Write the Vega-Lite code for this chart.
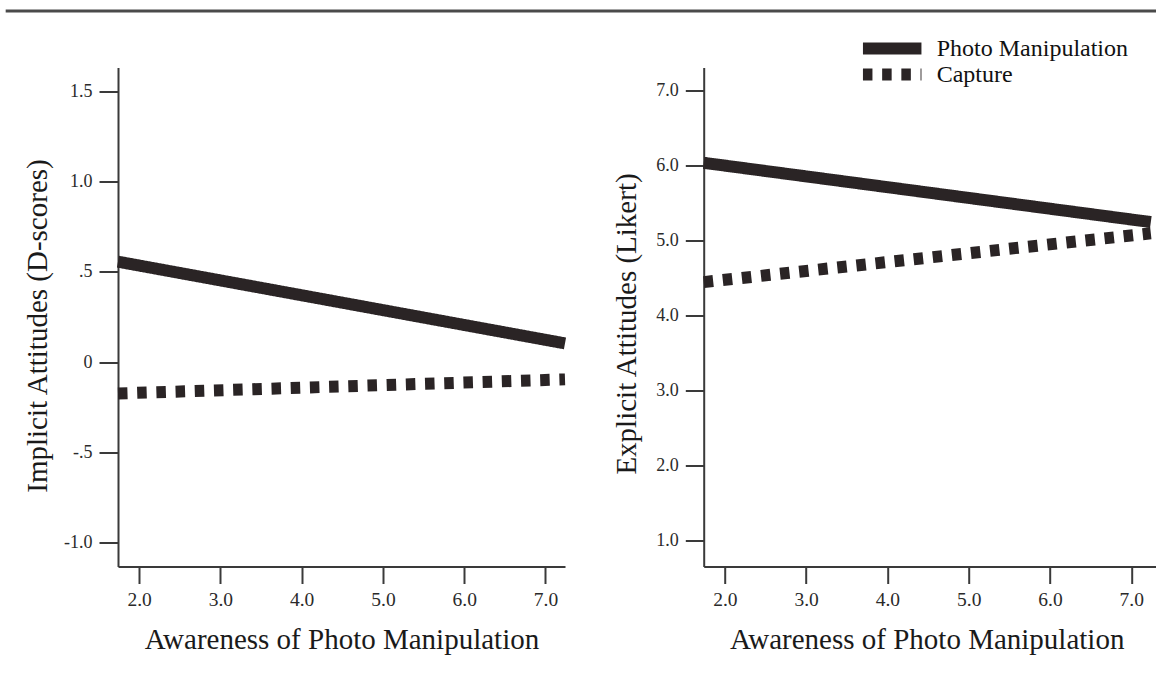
{
  "$schema": "https://vega.github.io/schema/vega-lite/v6.json",
  "background": "white",
  "padding": {"left": 4, "top": 1, "right": 0, "bottom": 0},
  "config": {
    "view": {"stroke": null},
    "font": "Liberation Serif",
    "axis": {
      "domainColor": "#3a3a3a", "domainWidth": 2,
      "tickColor": "#3a3a3a", "tickWidth": 2,
      "labelColor": "#2a2a2a", "labelFont": "Liberation Serif", "labelFontSize": 18,
      "titleFont": "Liberation Serif", "titleFontSize": 29, "titleFontWeight": "normal", "titleColor": "#1a1a1a",
      "grid": false, "labelFlush": false, "labelOverlap": false
    }
  },
  "datasets": {
    "lines": [
      {"panel": "implicit", "condition": "Photo Manipulation", "awareness": 1.74, "attitude": 0.556},
      {"panel": "implicit", "condition": "Photo Manipulation", "awareness": 7.24, "attitude": 0.104},
      {"panel": "implicit", "condition": "Capture", "awareness": 1.74, "attitude": -0.173},
      {"panel": "implicit", "condition": "Capture", "awareness": 7.24, "attitude": -0.095},
      {"panel": "explicit", "condition": "Photo Manipulation", "awareness": 1.74, "attitude": 6.04},
      {"panel": "explicit", "condition": "Photo Manipulation", "awareness": 7.24, "attitude": 5.25},
      {"panel": "explicit", "condition": "Capture", "awareness": 1.74, "attitude": 4.45},
      {"panel": "explicit", "condition": "Capture", "awareness": 7.24, "attitude": 5.10}
    ]
  },
  "spacing": 22.5,
  "vconcat": [
    {
      "width": 1040, "height": 10,
      "data": {"values": [{"line": "top"}]},
      "mark": {"type": "rule", "color": "#4a4a4a", "strokeWidth": 3},
      "encoding": {
        "x": {"datum": -0.108, "type": "quantitative", "scale": {"domain": [0, 1], "nice": false, "zero": false}, "axis": null},
        "x2": {"datum": 1},
        "y": {"datum": 0, "type": "quantitative", "scale": {"domain": [0, 1], "nice": false}, "axis": null}
      }
    },
    {
      "bounds": "flush",
      "spacing": 138.7,
      "resolve": {"scale": {"strokeDash": "independent", "x": "independent", "y": "independent"}, "legend": {"strokeDash": "independent"}},
      "hconcat": [
        {
          "width": 447, "height": 499,
          "data": {"name": "lines"},
          "transform": [{"filter": "datum.panel == 'implicit'"}],
          "mark": {"type": "line", "strokeWidth": 12, "color": "#2a2425", "strokeCap": "butt", "clip": false},
          "encoding": {
            "x": {
              "field": "awareness", "type": "quantitative",
              "scale": {"domain": [1.74, 7.24], "nice": false, "zero": false},
              "axis": {
                "title": "Awareness of Photo Manipulation", "values": [2, 3, 4, 5, 6, 7], "format": ".1f",
                "tickSize": 17, "labelPadding": 22, "labelBaseline": "alphabetic", "labelFontSize": 19.5,
                "titleBaseline": "alphabetic", "titleY": 82
              }
            },
            "y": {
              "field": "attitude", "type": "quantitative",
              "scale": {"domain": [-1.13, 1.63], "nice": false, "zero": false},
              "axis": {
                "title": "Implicit Attitudes (D-scores)", "values": [-1, -0.5, 0, 0.5, 1, 1.5],
                "labelExpr": "datum.value == 0 ? '0' : datum.value == 0.5 ? '.5' : datum.value == -0.5 ? '-.5' : datum.value == -1 ? '-1.0' : format(datum.value, '.1f')",
                "tickSize": 19, "labelPadding": 7,
                "titleAngle": -90, "titleBaseline": "alphabetic", "titleAlign": "center", "titleX": -71.5, "titleY": 258
              }
            },
            "strokeDash": {
              "field": "condition", "type": "nominal",
              "scale": {"domain": ["Photo Manipulation", "Capture"], "range": [[1, 0], [9.5, 9.7]]},
              "legend": null
            }
          }
        },
        {
          "width": 452, "height": 499,
          "data": {"name": "lines"},
          "transform": [{"filter": "datum.panel == 'explicit'"}],
          "mark": {"type": "line", "strokeWidth": 12, "color": "#2a2425", "strokeCap": "butt", "clip": false},
          "encoding": {
            "x": {
              "field": "awareness", "type": "quantitative",
              "scale": {"domain": [1.74, 7.3], "nice": false, "zero": false},
              "axis": {
                "title": "Awareness of Photo Manipulation", "values": [2, 3, 4, 5, 6, 7], "format": ".1f",
                "tickSize": 17, "labelPadding": 22, "labelBaseline": "alphabetic", "labelFontSize": 19.5,
                "titleBaseline": "alphabetic", "titleY": 82, "titleX": 223
              }
            },
            "y": {
              "field": "attitude", "type": "quantitative",
              "scale": {"domain": [0.66, 7.31], "nice": false, "zero": false},
              "axis": {
                "title": "Explicit Attitudes (Likert)", "values": [1, 2, 3, 4, 5, 6, 7], "format": ".1f",
                "tickSize": 18.4, "labelPadding": 7,
                "titleAngle": -90, "titleBaseline": "alphabetic", "titleAlign": "center", "titleX": -68.7, "titleY": 256
              }
            },
            "strokeDash": {
              "field": "condition", "type": "nominal",
              "scale": {"domain": ["Photo Manipulation", "Capture"], "range": [[1, 0], [9.5, 9.7]]},
              "legend": {
                "title": null, "orient": "none", "legendX": 176, "legendY": -31.5,
                "symbolType": "M-4.5,0H4.5", "symbolStrokeColor": "#2a2425", "symbolFillColor": "transparent",
                "symbolStrokeWidth": 12, "symbolSize": 169,
                "labelFont": "Liberation Serif", "labelFontSize": 24, "labelColor": "#111111", "labelOffset": 32,
                "labelLimit": 400, "rowPadding": 1, "padding": 0,
                "encode": {"symbols": {"update": {
                  "strokeJoin": {"value": "bevel"}, "strokeCap": {"value": "butt"},
                  "strokeDash": [{"test": "datum.label == 'Capture'", "value": [7.5, 9.6]}, {"value": [1, 0]}]
                }}}
              }
            }
          }
        }
      ]
    }
  ]
}
